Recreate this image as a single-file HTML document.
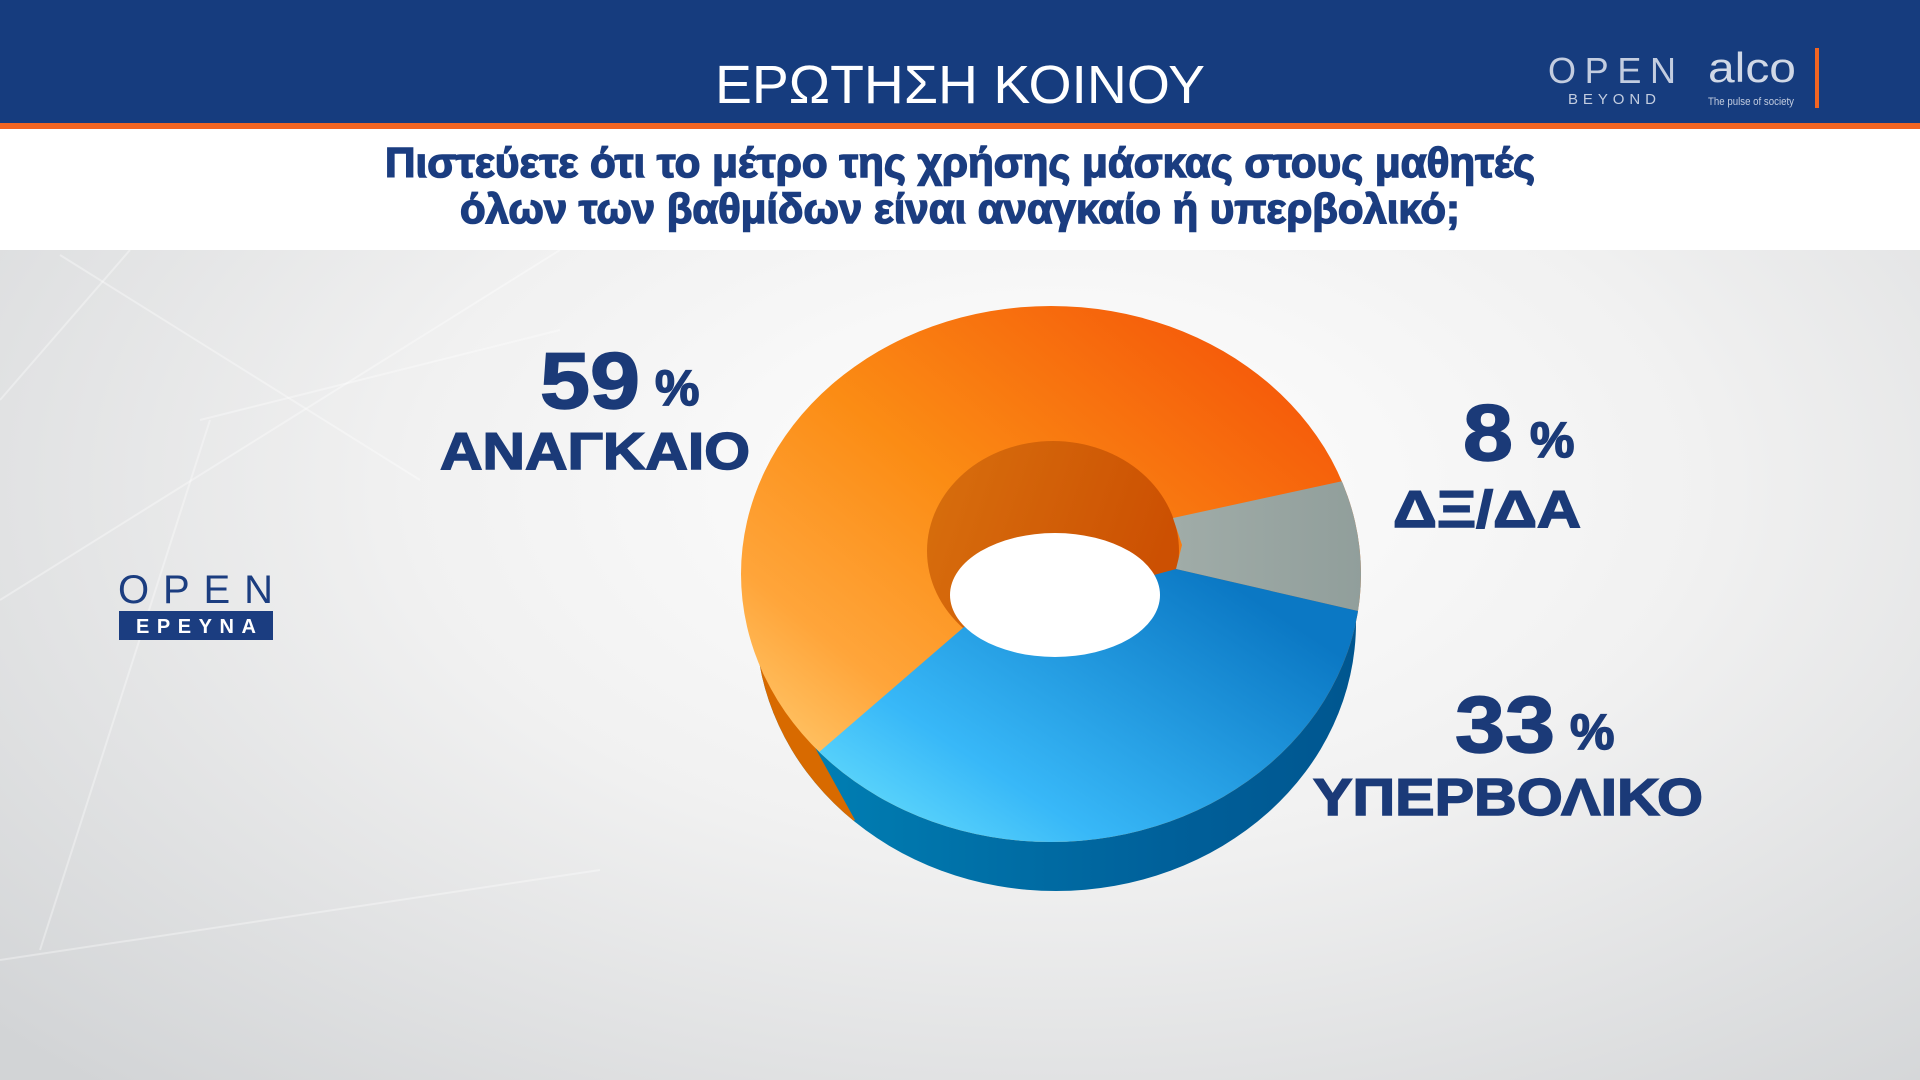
<!DOCTYPE html>
<html><head><meta charset="utf-8"><style>
html,body{margin:0;padding:0;width:1920px;height:1080px;overflow:hidden;}
svg{display:block}
text{font-family:"Liberation Sans","DejaVu Sans",sans-serif;}
</style></head><body>
<svg width="1920" height="1080" viewBox="0 0 1920 1080" xmlns="http://www.w3.org/2000/svg">
<defs>
<radialGradient id="bg" cx="0.55" cy="0.45" r="0.75">
<stop offset="0" stop-color="#ffffff"/><stop offset="0.45" stop-color="#f1f1f1"/><stop offset="1" stop-color="#d2d4d6"/>
</radialGradient>
<linearGradient id="og" x1="0.9" y1="0.2" x2="0.2" y2="0.95">
<stop offset="0" stop-color="#f55a0a"/><stop offset="0.45" stop-color="#fb8c14"/><stop offset="0.75" stop-color="#ffa53a"/><stop offset="1" stop-color="#ffd27a"/>
</linearGradient>
<linearGradient id="wg" x1="0" y1="0" x2="1" y2="0.3">
<stop offset="0" stop-color="#d8700e"/><stop offset="1" stop-color="#cc5002"/>
</linearGradient>
<linearGradient id="bgr" x1="0.15" y1="0.95" x2="0.95" y2="0.3">
<stop offset="0" stop-color="#8cfcff"/><stop offset="0.45" stop-color="#38b8f8"/><stop offset="1" stop-color="#0b78c4"/>
</linearGradient>
<linearGradient id="gg" x1="0" y1="0" x2="1" y2="0">
<stop offset="0" stop-color="#a0aca8"/><stop offset="1" stop-color="#8c9a97"/>
</linearGradient>
<linearGradient id="eg" x1="0" y1="0" x2="1" y2="0">
<stop offset="0" stop-color="#0088bb"/><stop offset="0.6" stop-color="#005f99"/><stop offset="1" stop-color="#004f88"/>
</linearGradient>
<clipPath id="outer"><ellipse cx="1051" cy="574" rx="310" ry="268"/></clipPath>
<clipPath id="ext"><ellipse cx="1056" cy="623" rx="300" ry="268"/></clipPath>
</defs>
<rect width="1920" height="1080" fill="url(#bg)"/>
<g stroke="#ffffff" stroke-opacity="0.35" stroke-width="2" fill="none">
<line x1="0" y1="400" x2="130" y2="250"/><line x1="0" y1="600" x2="560" y2="250"/>
<line x1="210" y1="420" x2="40" y2="950"/><line x1="0" y1="960" x2="600" y2="870"/>
<line x1="200" y1="420" x2="560" y2="330"/><line x1="60" y1="255" x2="420" y2="480"/>
</g>
<!-- header -->
<rect x="0" y="0" width="1920" height="123" fill="#163c7e"/>
<rect x="0" y="123" width="1920" height="6" fill="#f26522"/>
<rect x="0" y="129" width="1920" height="121" fill="#ffffff"/>
<text x="960" y="103" text-anchor="middle" fill="#ffffff" font-size="54" textLength="490" lengthAdjust="spacingAndGlyphs">ΕΡΩΤΗΣΗ ΚΟΙΝΟΥ</text>
<text x="1548" y="83" fill="#c3cde0" font-size="36" textLength="128" lengthAdjust="spacing">OPEN</text>
<text x="1568" y="104" fill="#c3cde0" font-size="15" textLength="88" lengthAdjust="spacing">BEYOND</text>
<text x="1708" y="82" fill="#d0d8e6" font-size="42" font-family="Liberation Serif,serif" textLength="88" lengthAdjust="spacingAndGlyphs">alco</text>
<text x="1708" y="105" fill="#c3cde0" font-size="11" textLength="86" lengthAdjust="spacingAndGlyphs">The pulse of society</text>
<rect x="1815" y="48" width="4" height="60" fill="#f26522"/>
<text x="960" y="177" text-anchor="middle" fill="#1b3d80" font-size="42" font-weight="bold" stroke="#1b3d80" stroke-width="1.5" textLength="1150" lengthAdjust="spacingAndGlyphs">Πιστεύετε ότι το μέτρο της χρήσης μάσκας στους μαθητές</text>
<text x="960" y="223" text-anchor="middle" fill="#1b3d80" font-size="42" font-weight="bold" stroke="#1b3d80" stroke-width="1.5" textLength="1000" lengthAdjust="spacingAndGlyphs">όλων των βαθμίδων είναι αναγκαίο ή υπερβολικό;</text>
<!-- OPEN ΕΡΕΥΝΑ logo -->
<text x="118" y="603" fill="#1b3d80" font-size="40" textLength="155" lengthAdjust="spacing">OPEN</text>
<rect x="119" y="611" width="154" height="29" fill="#1b3d80"/>
<text x="196" y="633" text-anchor="middle" fill="#ffffff" font-size="20" font-weight="bold" textLength="120" lengthAdjust="spacing">ΕΡΕΥΝΑ</text>
<!-- extrusion -->
<g clip-path="url(#ext)">
<rect x="700" y="560" width="800" height="400" fill="url(#eg)"/>
<polygon points="700,560 790,700 818,753 855,820 700,900" fill="#d86a00"/>
</g>
<!-- top surface -->
<g clip-path="url(#outer)">
<rect x="700" y="290" width="700" height="600" fill="url(#og)"/>
<ellipse cx="1053" cy="551" rx="126" ry="110" fill="url(#wg)"/>
<polygon points="1173,518 1343,481 1420,470 1420,620 1358,611 1176,569 1182,545" fill="url(#gg)"/>
<polygon points="1176,569 1358,611 1420,622 1420,950 700,950 818,753 964,627" fill="url(#bgr)"/>
</g>
<ellipse cx="1055" cy="595" rx="105" ry="62" fill="#ffffff"/>
<!-- labels -->
<g fill="#1b3a78" font-weight="bold" stroke="#1b3a78" stroke-width="1.5">
<text x="540" y="408" font-size="80" textLength="100" lengthAdjust="spacingAndGlyphs">59</text>
<text x="655" y="405" font-size="50">%</text>
<text x="440" y="469" font-size="52" textLength="310" lengthAdjust="spacingAndGlyphs">ΑΝΑΓΚΑΙΟ</text>
<text x="1463" y="460" font-size="80" textLength="50" lengthAdjust="spacingAndGlyphs">8</text>
<text x="1530" y="457" font-size="50">%</text>
<text x="1393" y="527" font-size="52" textLength="188" lengthAdjust="spacingAndGlyphs">ΔΞ/ΔΑ</text>
<text x="1455" y="752" font-size="80" textLength="100" lengthAdjust="spacingAndGlyphs">33</text>
<text x="1570" y="749" font-size="50">%</text>
<text x="1313" y="815" font-size="52" textLength="390" lengthAdjust="spacingAndGlyphs">ΥΠΕΡΒΟΛΙΚΟ</text>
</g>
</svg>
</body></html>
